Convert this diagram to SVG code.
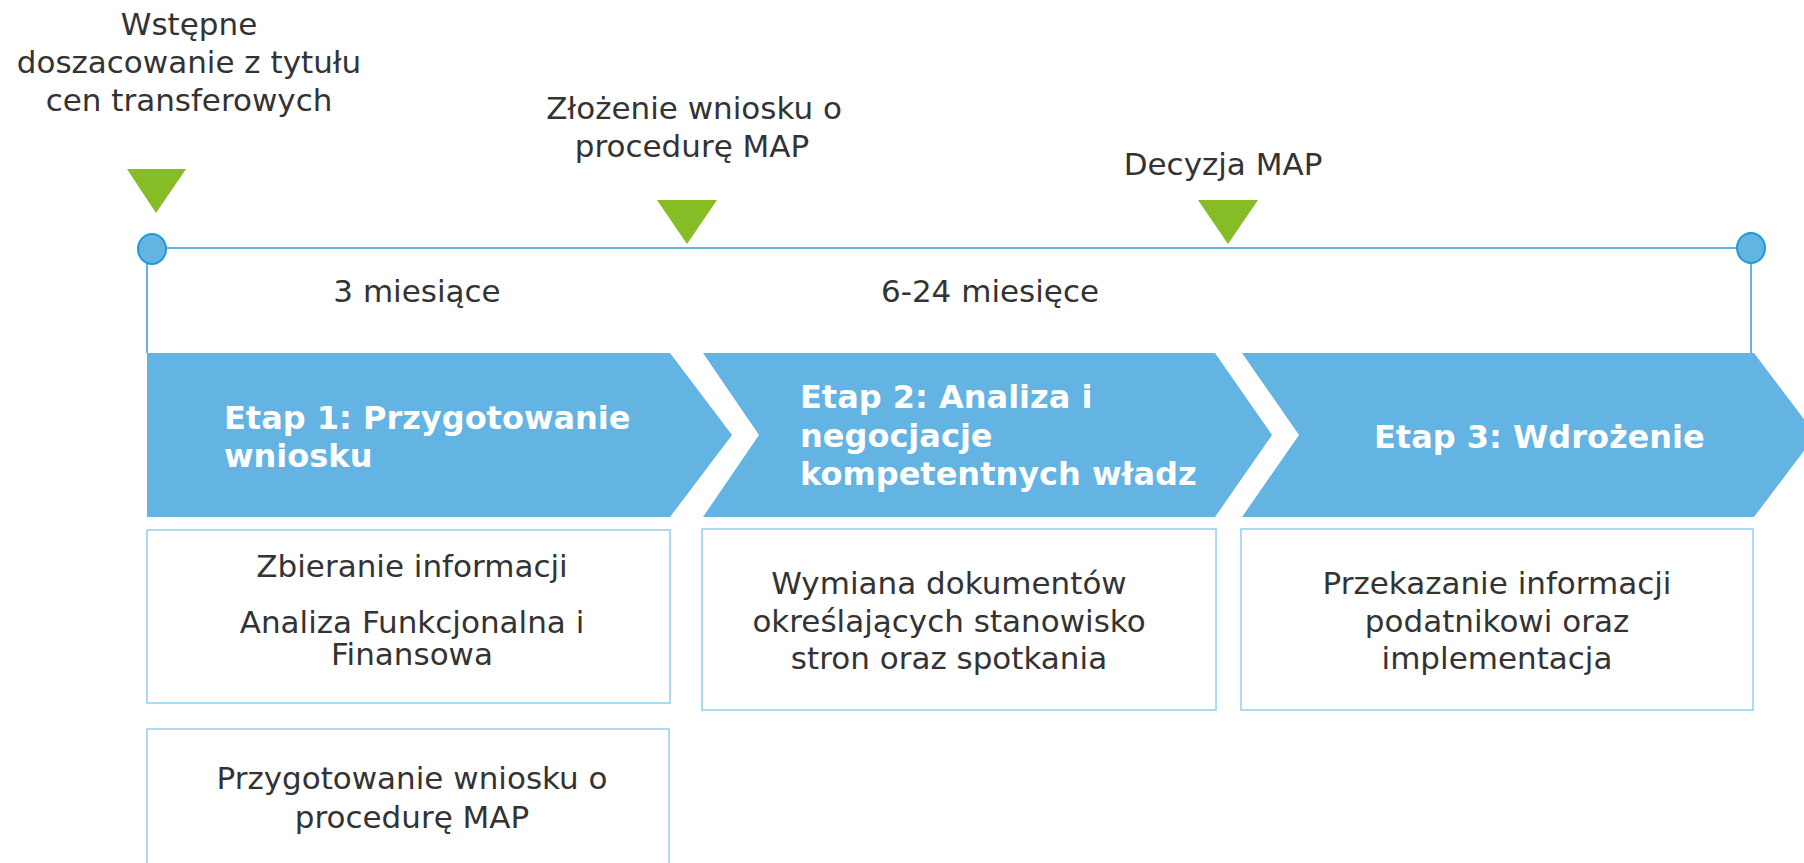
<svg xmlns="http://www.w3.org/2000/svg" width="1804" height="863" viewBox="0 0 1804 863">
<style>
.t{font-family:"DejaVu Sans","Liberation Sans",sans-serif;font-size:31px;fill:#333333;text-anchor:middle}
.h{font-family:"DejaVu Sans","Liberation Sans",sans-serif;font-size:32px;font-weight:bold;fill:#ffffff}
.chev{fill:#63B3E3}
.box{fill:#ffffff;stroke:#8ED0EE;stroke-width:1.5}
.tri{fill:#86BC25}
.ln{stroke:#63B3E3;stroke-width:2;fill:none}
.dot{fill:#63B3E3;stroke:#1B9AD6;stroke-width:2}
</style>
<rect width="1804" height="863" fill="#ffffff"/>
<g id="connectors">
<line class="ln" x1="152" y1="248" x2="1751" y2="248"/>
<line class="ln" x1="147" y1="262" x2="147" y2="353"/>
<line class="ln" x1="1751" y1="262" x2="1751" y2="353"/>
</g>
<g id="start-dot"><ellipse class="dot" cx="152" cy="249" rx="14" ry="15"/></g>
<g id="end-dot"><ellipse class="dot" cx="1751" cy="248" rx="14" ry="15"/></g>
<g id="milestone1">
<polygon class="tri" points="127,169 186,169 156,213"/>
<text class="t" x="189" y="35">Wstępne</text>
<text class="t" x="189" y="73">doszacowanie z tytułu</text>
<text class="t" x="189" y="111">cen transferowych</text>
</g>
<g id="milestone2">
<polygon class="tri" points="657,200 717,200 687,244"/>
<text class="t" x="694" y="119">Złożenie wniosku o</text>
<text class="t" x="692" y="157">procedurę MAP</text>
</g>
<g id="milestone3">
<polygon class="tri" points="1198,200 1258,200 1228,244"/>
<text class="t" x="1223" y="175">Decyzja MAP</text>
</g>
<g id="duration1"><text class="t" x="417" y="302">3 miesiące</text></g>
<g id="duration2"><text class="t" x="990" y="302">6-24 miesięce</text></g>
<g id="stage1">
<polygon class="chev" points="147,353 670,353 732,435 670,517 147,517"/>
<text class="h" x="224" y="429">Etap 1: Przygotowanie</text>
<text class="h" x="224" y="467">wniosku</text>
</g>
<g id="stage2">
<polygon class="chev" points="703,353 1215,353 1272,435 1215,517 703,517 759,435"/>
<text class="h" x="800" y="408">Etap 2: Analiza i</text>
<text class="h" x="800" y="447">negocjacje</text>
<text class="h" x="800" y="485">kompetentnych władz</text>
</g>
<g id="stage3">
<polygon class="chev" points="1242,353 1754,353 1816,435 1754,517 1242,517 1299,435"/>
<text class="h" x="1374" y="448">Etap 3: Wdrożenie</text>
</g>
<g id="box1">
<rect class="box" x="147" y="530" width="523" height="173"/>
<text class="t" x="412" y="577">Zbieranie informacji</text>
<text class="t" x="412" y="633">Analiza Funkcjonalna i</text>
<text class="t" x="412" y="665">Finansowa</text>
</g>
<g id="box1b">
<rect class="box" x="147" y="729" width="522" height="150"/>
<text class="t" x="412" y="789">Przygotowanie wniosku o</text>
<text class="t" x="412" y="828">procedurę MAP</text>
</g>
<g id="box2">
<rect class="box" x="702" y="529" width="514" height="181"/>
<text class="t" x="949" y="594">Wymiana dokumentów</text>
<text class="t" x="949" y="632">określających stanowisko</text>
<text class="t" x="949" y="669">stron oraz spotkania</text>
</g>
<g id="box3">
<rect class="box" x="1241" y="529" width="512" height="181"/>
<text class="t" x="1497" y="594">Przekazanie informacji</text>
<text class="t" x="1497" y="632">podatnikowi oraz</text>
<text class="t" x="1497" y="669">implementacja</text>
</g>
</svg>
